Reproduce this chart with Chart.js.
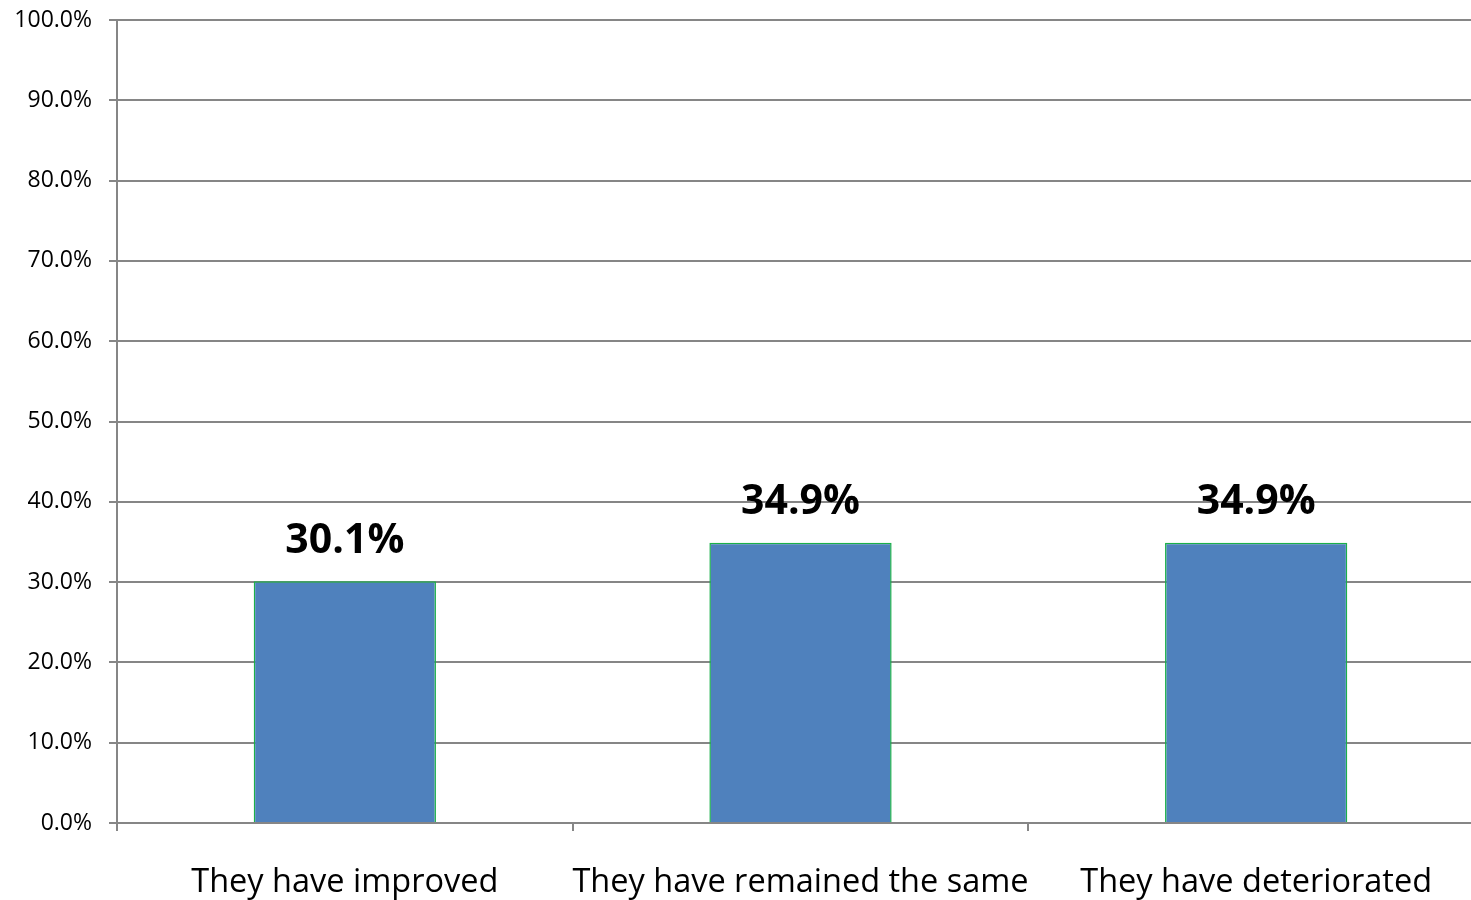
<!DOCTYPE html>
<html>
<head>
<meta charset="utf-8">
<script src="https://cdn.jsdelivr.net/npm/chart.js@4.4.1/dist/chart.umd.min.js"></script>
<style>
  html, body { margin: 0; padding: 0; overflow: hidden; background: #fff; }
  #wrap { width: 1484px; height: 900px; }
</style>
</head>
<body>
<div id="wrap"><canvas id="chart" width="1484" height="900"></canvas></div>
<script>
// 類別與數值
var categories = ['They have improved', 'They have remained the same', 'They have deteriorated'];
var values = [30.1, 34.9, 34.9];
var yTicks = [0, 10, 20, 30, 40, 50, 60, 70, 80, 90, 100];

var fontFamily = "'Open Sans', 'Noto Sans', sans-serif";

// 柱頂數值標籤
var valueLabels = {
  id: 'valueLabels',
  afterDatasetsDraw: function(chart) {
    var ctx = chart.ctx;
    var meta = chart.getDatasetMeta(0);
    ctx.save();
    ctx.font = 'bold 41px ' + fontFamily;
    ctx.fillStyle = '#000';
    ctx.textAlign = 'center';
    ctx.textBaseline = 'middle';
    meta.data.forEach(function(bar, i) {
      ctx.fillText(values[i].toFixed(1) + '%', bar.x, bar.y - 40);
    });
    ctx.restore();
  }
};

var ctx = document.getElementById('chart').getContext('2d');
new Chart(ctx, {
  type: 'bar',
  data: {
    labels: categories,
    datasets: [{
      data: values,
      backgroundColor: '#4F81BD',
      borderColor: '#1BB04A',
      borderWidth: 1.5,
      categoryPercentage: 1,
      barPercentage: 0.4
    }]
  },
  options: {
    responsive: false,
    animation: false,
    layout: { padding: { top: 20, left: 0, right: 0, bottom: 0 } },
    plugins: {
      legend: { display: false },
      tooltip: { enabled: false }
    },
    scales: {
      y: {
        min: 0,
        max: 100,
        afterBuildTicks: function(scale) {
          scale.ticks = yTicks.map(function(v) { return { value: v }; });
        },
        afterFit: function(scale) {
          scale.width = 117;
          scale.paddingTop = 0;
          scale.paddingBottom = 0;
        },
        ticks: {
          padding: 17,
          color: '#000',
          font: { family: fontFamily, size: 23 },
          callback: function(v) { return v.toFixed(1) + '%'; }
        },
        grid: { color: '#868686', lineWidth: 2, tickLength: 8 },
        border: { color: '#868686', width: 2 }
      },
      x: {
        afterFit: function(scale) {
          scale.height = 77;
          scale.paddingLeft = 0;
          scale.paddingRight = 0;
        },
        ticks: {
          autoSkip: false,
          padding: 32,
          color: '#000',
          maxRotation: 0,
          font: { family: fontFamily, size: 32.5 }
        },
        grid: { display: true, drawOnChartArea: false, color: '#868686', lineWidth: 2, tickLength: 8 },
        border: { color: '#868686', width: 2 }
      }
    }
  },
  plugins: [valueLabels]
});
</script>
</body>
</html>
